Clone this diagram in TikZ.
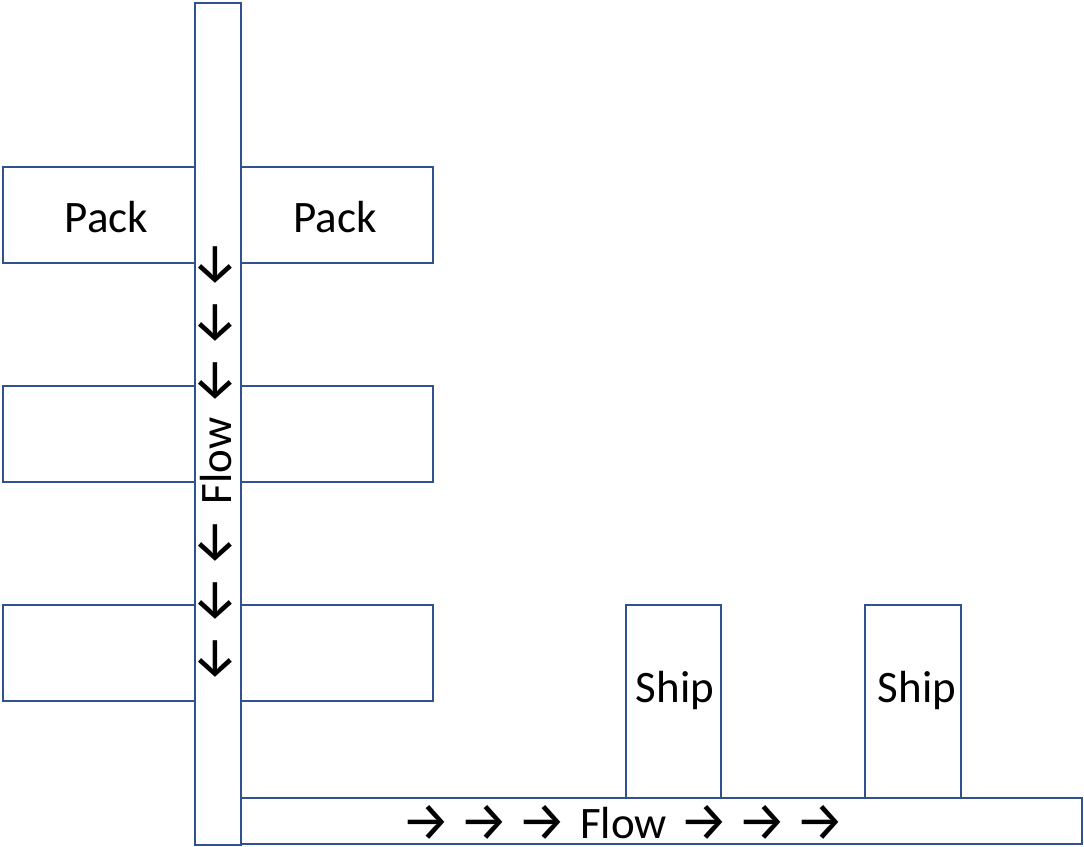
\documentclass[tikz,border=0pt]{standalone}
\usepackage{fontspec}
\setmainfont{Carlito}
\newfontfamily\arrowfont{Fira Sans}
\definecolor{boxblue}{HTML}{2F528F}
% one arrow glyph in a fixed-width slot
\newcommand\flowarr[1]{\makebox[58pt][c]{\raisebox{-2pt}{\arrowfont\fontsize{55}{60}\selectfont #1}}}
\begin{document}
\begin{tikzpicture}[x=1pt,y=-1pt,
  box/.style={draw=boxblue, line width=2.2pt, fill=white, inner sep=0pt,
    outer sep=0pt, anchor=north west},
  lbl/.style={font=\fontsize{45}{54}\selectfont, inner sep=0pt, anchor=base}]
\useasboundingbox (0,0) rectangle (1084,846);

% packing stations on both sides of the vertical line
\node[box, minimum width=192pt, minimum height=96pt] (p1l) at (3,167) {};
\node[box, minimum width=192pt, minimum height=96pt] (p1r) at (241,167) {};
\node[box, minimum width=192pt, minimum height=96pt] (p2l) at (3,386) {};
\node[box, minimum width=192pt, minimum height=96pt] (p2r) at (241,386) {};
\node[box, minimum width=192pt, minimum height=96pt] (p3l) at (3,605) {};
\node[box, minimum width=192pt, minimum height=96pt] (p3r) at (241,605) {};

% shipping docks
\node[box, minimum width=95pt, minimum height=193pt] (s1) at (626,605) {};
\node[box, minimum width=96pt, minimum height=193pt] (s2) at (865,605) {};

% conveyor lines
\node[box, minimum width=841pt, minimum height=46pt] (hbar) at (241,798) {};
\node[box, minimum width=46pt, minimum height=842pt] (vbar) at (195,3) {};

% labels
\node[lbl] (t1l) at (106.5,232) {Pack};
\node[lbl] (t1r) at (335,232) {Pack};
\node[lbl] (ts1) at (675,702) {Ship};
\node[lbl] (ts2) at (917,702) {Ship};
\node[lbl] (hflow) at (623,838)
  {\flowarr{→}\flowarr{→}\flowarr{→}\hspace{9pt}Flow\hspace{8pt}\flowarr{→}\flowarr{→}\flowarr{→}};
\node[lbl, rotate=90] (vflow) at (231,461.5)
  {\flowarr{←}\flowarr{←}\flowarr{←}\hspace{9pt}Flow\hspace{8pt}\flowarr{←}\flowarr{←}\flowarr{←}};
\end{tikzpicture}
\end{document}
